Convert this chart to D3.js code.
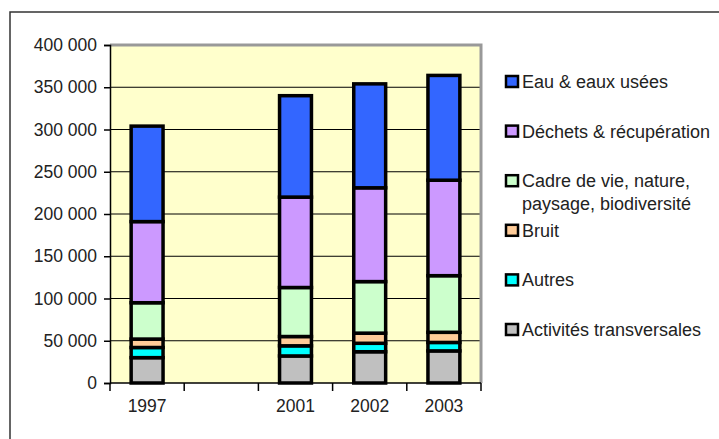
<!DOCTYPE html>
<html>
<head>
<meta charset="utf-8">
<script src="https://cdn.jsdelivr.net/npm/d3@7"></script>
<style>
body { margin: 0; background: #fff; }
text { font-family: "Liberation Sans", Arial, sans-serif; fill: #222; }
</style>
</head>
<body>
<script>
var width = 719, height = 439;

// categories (the blank one is the gap between 1997 and 2001)
var years = ["1997", "", "2001", "2002", "2003"];

// values per series, in euros
var activites = [30000, null, 32000, 37000, 38000];
var autres    = [12000, null, 12000, 10000, 10000];
var bruit     = [10000, null, 11000, 12000, 12000];
var cadre     = [43000, null, 58000, 61000, 67000];
var dechets   = [96000, null, 107000, 111000, 113000];
var eau       = [113000, null, 120000, 123000, 124000];

// stack order, bottom to top
var seriesKeys = ["activites", "autres", "bruit", "cadre", "dechets", "eau"];
var seriesNames = {
  activites: ["Activités transversales"],
  autres: ["Autres"],
  bruit: ["Bruit"],
  cadre: ["Cadre de vie, nature,", "paysage, biodiversité"],
  dechets: ["Déchets & récupération"],
  eau: ["Eau & eaux usées"]
};
var colors = {
  activites: "#c0c0c0", autres: "#00ffff", bruit: "#ffcc99",
  cadre: "#ccffcc", dechets: "#cc99ff", eau: "#3366ff"
};
var yTicks = [0, 50000, 100000, 150000, 200000, 250000, 300000, 350000, 400000];

var values = { activites: activites, autres: autres, bruit: bruit, cadre: cadre, dechets: dechets, eau: eau };
var rows = years.map(function(y, i) {
  var r = { year: y };
  seriesKeys.forEach(function(k) { r[k] = values[k][i]; });
  return r;
}).filter(function(r) { return r.eau != null; });

var pLeft = 110, pRight = 481, pTop = 45, pBottom = 383;
var fontSize = "17.5px";

var svg = d3.select("body").append("svg")
  .attr("width", width)
  .attr("height", height);

// outer frame (left and top only are visible)
svg.append("path")
  .attr("d", "M10,439V12H719")
  .attr("fill", "none")
  .attr("stroke", "#333")
  .attr("stroke-width", 1.5);

var x = d3.scaleBand().domain(years).range([pLeft, pRight])
  .paddingInner(0.57).paddingOuter(0.285);
var y = d3.scaleLinear().domain([0, 400000]).range([pBottom, pTop]);

var fr = d3.formatLocale({ decimal: ",", thousands: " ", grouping: [3], currency: ["", ""] });
var fmt = fr.format(",");

// plot background
svg.append("rect")
  .attr("x", pLeft).attr("y", pTop)
  .attr("width", pRight - pLeft).attr("height", pBottom - pTop)
  .attr("fill", "#ffffcc");

// grid lines
svg.append("g").selectAll("line")
  .data(yTicks.filter(function(d) { return d > 0 && d < 400000; }))
  .enter().append("line")
  .attr("x1", pLeft).attr("x2", pRight)
  .attr("y1", function(d) { return y(d); })
  .attr("y2", function(d) { return y(d); })
  .attr("stroke", "#000")
  .attr("stroke-width", 1);

// plot border top and right (grey)
svg.append("path")
  .attr("d", "M" + pLeft + "," + pTop + "H" + pRight + "V" + pBottom)
  .attr("fill", "none")
  .attr("stroke", "#999")
  .attr("stroke-width", 3);

// bars
var stack = d3.stack().keys(seriesKeys)(rows);
svg.append("g").selectAll("g")
  .data(stack)
  .enter().append("g")
  .attr("fill", function(d) { return colors[d.key]; })
  .selectAll("rect")
  .data(function(d) { return d; })
  .enter().append("rect")
  .attr("x", function(d) { return x(d.data.year); })
  .attr("width", x.bandwidth())
  .attr("y", function(d) { return y(d[1]); })
  .attr("height", function(d) { return y(d[0]) - y(d[1]); })
  .attr("stroke", "#000")
  .attr("stroke-width", 3.5);

// y axis
var yAxis = d3.axisLeft(y).tickValues(yTicks).tickFormat(fmt).tickSize(6).tickPadding(7);
var gy = svg.append("g").attr("transform", "translate(" + pLeft + ",0)").call(yAxis);
gy.select(".domain").attr("stroke", "#000").attr("stroke-width", 1.5);
gy.selectAll(".tick line").attr("stroke", "#000").attr("stroke-width", 1.5);
gy.selectAll("text").style("font-size", fontSize).attr("fill", "#222");

// x axis, ticks on the band edges
var gx = svg.append("g");
gx.append("line")
  .attr("x1", pLeft).attr("x2", pRight)
  .attr("y1", pBottom).attr("y2", pBottom)
  .attr("stroke", "#000").attr("stroke-width", 1.5);
var edges = years.map(function(d) { return x(d) - x.step() * x.paddingOuter(); });
edges.push(pRight);
gx.selectAll(".tk").data(edges).enter().append("line")
  .attr("x1", function(d) { return d; }).attr("x2", function(d) { return d; })
  .attr("y1", pBottom).attr("y2", pBottom + 8)
  .attr("stroke", "#000").attr("stroke-width", 1.5);
gx.selectAll("text").data(years).enter().append("text")
  .attr("x", function(d) { return x(d) + x.bandwidth() / 2; })
  .attr("y", pBottom + 29)
  .attr("text-anchor", "middle")
  .style("font-size", fontSize)
  .text(function(d) { return d; });

// legend, top to bottom
var legendKeys = seriesKeys.slice().reverse();
var lg = svg.append("g").selectAll("g")
  .data(legendKeys)
  .enter().append("g")
  .attr("transform", function(d, i) { return "translate(505," + (82 + i * 49.6) + ")"; });
lg.append("rect")
  .attr("x", 1).attr("y", -6)
  .attr("width", 12).attr("height", 11)
  .attr("fill", function(d) { return colors[d]; })
  .attr("stroke", "#000").attr("stroke-width", 2.5);
lg.append("text")
  .attr("x", 17).attr("y", 6)
  .style("font-size", "18px")
  .selectAll("tspan")
  .data(function(d) { return seriesNames[d]; })
  .enter().append("tspan")
  .attr("x", 17)
  .attr("dy", function(d, i) { return i === 0 ? 0 : 23; })
  .text(function(d) { return d; });
</script>
</body>
</html>
